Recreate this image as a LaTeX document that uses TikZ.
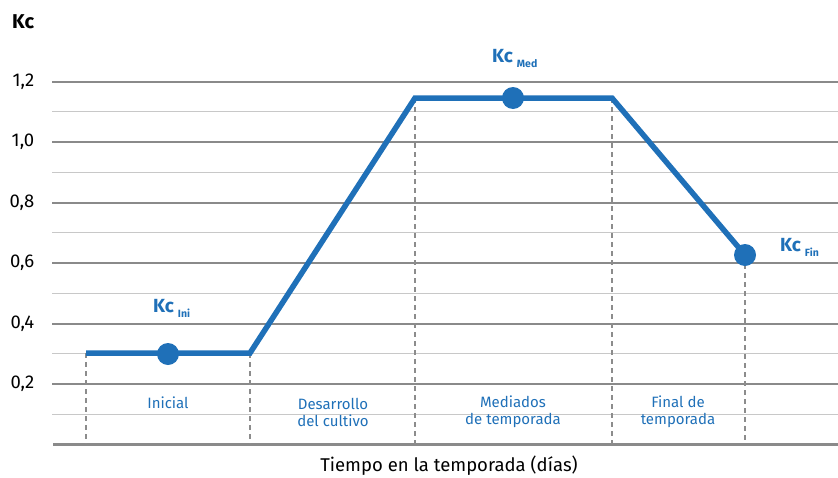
\documentclass[tikz,border=0pt]{standalone}
\usepackage{fontspec}
\setmainfont{Fira Sans}
\definecolor{kcblue}{RGB}{31,112,184}
\definecolor{majgray}{RGB}{138,138,138}
\definecolor{mingray}{RGB}{200,200,200}
\definecolor{dashgray}{RGB}{140,140,140}
\newcommand{\kcsub}[1]{\textbf{Kc}\kern4pt\raisebox{-5pt}{\fontsize{10.5}{11}\selectfont\bfseries #1}}
\begin{document}
\begin{tikzpicture}[x=1pt,y=-1pt,
  majline/.style={draw=majgray,line width=2pt},
  minline/.style={draw=mingray,line width=1.3pt},
  axisline/.style={draw=majgray,line width=2.6pt},
  curve/.style={draw=kcblue,line width=5.5pt,line join=miter},
  dot/.style={circle,fill=kcblue,inner sep=0pt,minimum size=22pt},
  vdash/.style={draw=dashgray,line width=1.1pt,dash pattern=on 5pt off 4pt},
  ticklab/.style={anchor=east,font=\fontsize{18.5}{20}\selectfont,text=black,inner sep=0pt},
  stagelab/.style={align=center,font=\fontsize{15}{17}\selectfont,text=kcblue,inner sep=0pt},
  kclab/.style={anchor=west,font=\fontsize{19}{20}\selectfont,text=kcblue,inner sep=0pt}]
\useasboundingbox (0,0) rectangle (838,477);
% grid lines
\foreach \v in {0.1,0.3,0.5,0.7,0.9,1.1}{
  \draw[minline] (52,{384-(\v-0.2)*302.5}) -- (838,{384-(\v-0.2)*302.5});
}
\foreach \v/\t in {0.2/{0,2},0.4/{0,4},0.6/{0,6},0.8/{0,8},1.0/{1,0},1.2/{1,2}}{
  \draw[majline] (52,{384-(\v-0.2)*302.5}) -- (838,{384-(\v-0.2)*302.5});
  \node[ticklab] at (34.5,{384-(\v-0.2)*302.5}) {\t};
}
\draw[axisline] (53,444.5) -- (838,444.5);
\node[anchor=west,font=\fontsize{20}{22}\selectfont\bfseries,inner sep=0pt] (kc) at (12,22) {Kc};
% curve points
\coordinate (p1) at (86,353);
\coordinate (p2) at (250,353);
\coordinate (p3) at (415,98);
\coordinate (p4) at (612,98);
\coordinate (p5) at (745,255);
\foreach \n/\x in {p1/86,p2/250,p3/415,p4/612,p5/745}{
  \coordinate (b\n) at (\x,444);
  \draw[vdash] (\n) -- (b\n);
}
\draw[curve] (p1) -- (p2) -- (p3) -- (p4) -- (p5);
\node[dot] (dini) at (168,354) {};
\node[dot] (dmed) at (513,98) {};
\node[dot] (dfin) at (745,255) {};
\node[kclab] (lini) at (153,308) {\kcsub{Ini}};
\node[kclab] (lmed) at (492,59) {\kcsub{Med}};
\node[kclab] (lfin) at (780,247) {\kcsub{Fin}};
% stage labels
\node[stagelab] (s1) at (168,403) {Inicial};
\node[stagelab] (s2) at (333,412) {Desarrollo\\del cultivo};
\node[stagelab] (s3) at (513,412) {Mediados\\de temporada};
\node[stagelab] (s4) at (678,412) {Final de\\temporada};
\node[font=\fontsize{18.5}{20}\selectfont,inner sep=0pt] (xl) at (449,466) {Tiempo en la temporada (días)};
\end{tikzpicture}
\end{document}
